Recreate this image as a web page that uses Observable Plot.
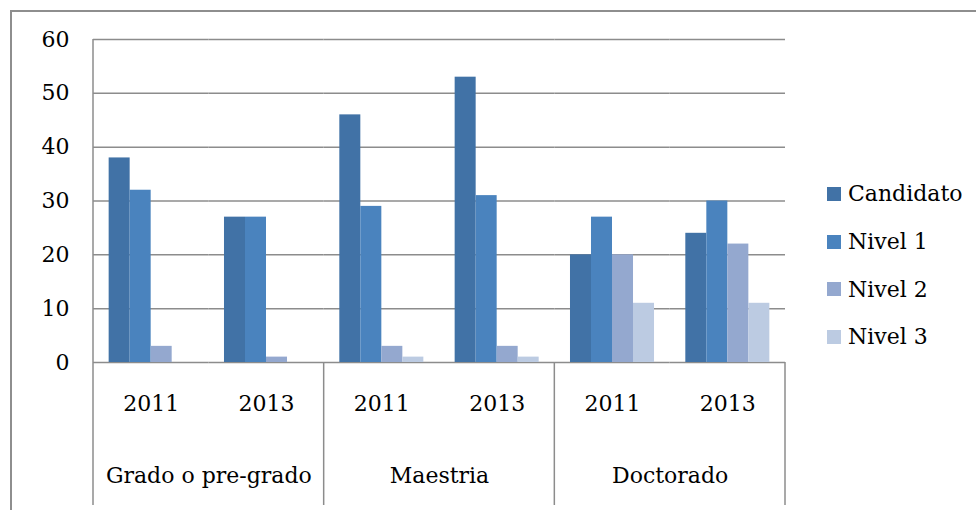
<!DOCTYPE html>
<html>
<head>
<meta charset="utf-8">
<script src="https://cdn.jsdelivr.net/npm/d3@7"></script>
<script src="https://cdn.jsdelivr.net/npm/@observablehq/plot@0.6"></script>
<style>
  html, body { margin: 0; padding: 0; background: #fff; }
  #wrap { position: relative; width: 976px; height: 510px; overflow: hidden; font-family: 'DejaVu Serif', serif; }
  #border { position: absolute; left: 10px; top: 10px; width: 990px; height: 520px; border-left: 2px solid #8e8e8e; border-top: 2px solid #8e8e8e; box-sizing: border-box; }
  #chart { position: absolute; left: 0; top: 0; }
  #legend { position: absolute; left: 827px; top: 170px; font-size: 22px; color: #000; }
  .row { display: flex; align-items: center; height: 47.7px; }
  .sw { width: 14px; height: 14px; margin-right: 7px; }
</style>
</head>
<body>
<div id="wrap">
  <div id="border"></div>
  <div id="chart"></div>
  <div id="legend"></div>
</div>
<script>
const groups = ["Grado o pre-grado", "Maestria", "Doctorado"];
const years = ["2011", "2013"];
const series = ["Candidato", "Nivel 1", "Nivel 2", "Nivel 3"];
// values in order: Grado 2011, Grado 2013, Maestria 2011, Maestria 2013, Doctorado 2011, Doctorado 2013
const candidato = [38, 27, 46, 53, 20, 24];
const nivel1 = [32, 27, 29, 31, 27, 30];
const nivel2 = [3, 1, 3, 3, 20, 22];
const nivel3 = [0, 0, 1, 1, 11, 11];
const yTicks = [0, 10, 20, 30, 40, 50, 60];
const colors = ["#4172a6", "#4a83be", "#94a8cf", "#bccbe2"];

const seriesValues = [candidato, nivel1, nivel2, nivel3];
const keys = [];
groups.forEach(g => years.forEach(y => keys.push(g + "|" + y)));
const rows = [];
keys.forEach((k, i) => series.forEach((s, j) => rows.push({key: k, series: s, value: seriesValues[j][i]})));
const groupRows = groups.map(g => ({key: g + "|" + years[0], group: g}));

const plot = Plot.plot({
  width: 976,
  height: 510,
  marginLeft: 93,
  marginRight: 191,
  marginTop: 39,
  marginBottom: 148,
  style: {fontFamily: "'DejaVu Serif', serif", fontSize: "22px", color: "#000", background: "transparent", overflow: "visible"},
  fx: {domain: keys, padding: 0, round: false, label: null, tickFormat: k => k.split("|")[1], tickSize: 0, tickPadding: 33, axis: "bottom"},
  x: {domain: series, paddingInner: 0, paddingOuter: 0.745, round: false, axis: null},
  y: {domain: [0, 60], ticks: yTicks, tickSize: 0, tickPadding: 24, label: null},
  color: {domain: series, range: colors},
  marks: [
    Plot.ruleY(yTicks, {stroke: "#8c8c8c", strokeWidth: 1.5}),
    Plot.barY(rows, {fx: "key", x: "series", y: "value", fill: "series"}),
    Plot.text(groupRows, {fx: "key", text: "group", frameAnchor: "bottom-right", textAnchor: "middle", dy: 120, fill: "#000"})
  ]
});
document.getElementById("chart").appendChild(plot);

// group separators in the category area, placed through the fx and y scales
const fxS = plot.scale("fx");
const yS = plot.scale("y");
const y0 = yS.apply(0);
const yTop = yS.apply(60);
const yBot = 505;
const svg = d3.select(plot);
const edges = groups.map(g => fxS.apply(g + "|" + years[0]));
edges.push(fxS.apply(keys[keys.length - 1]) + fxS.bandwidth);
edges.forEach((x, i) => {
  svg.append("line")
    .attr("x1", x).attr("x2", x)
    .attr("y1", i === 0 ? yTop : y0).attr("y2", yBot)
    .attr("stroke", "#8c8c8c").attr("stroke-width", 1.5);
});

// legend
const legend = d3.select("#legend");
series.forEach((s, i) => {
  const r = legend.append("div").attr("class", "row");
  r.append("div").attr("class", "sw").style("background", colors[i]);
  r.append("span").text(s);
});
</script>
</body>
</html>
